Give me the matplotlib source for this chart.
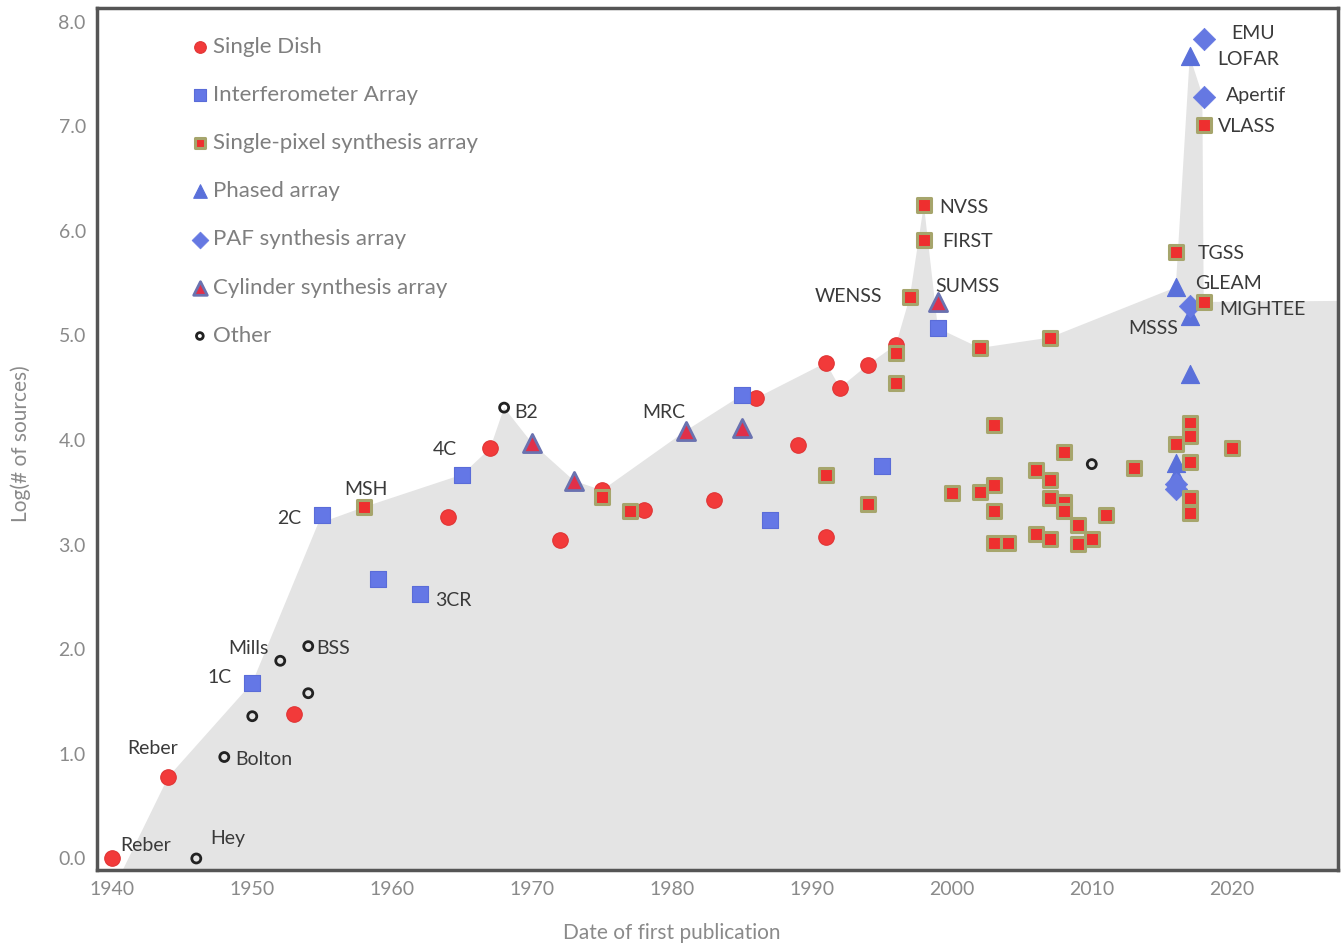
import numpy as np
import matplotlib
matplotlib.use("Agg")
import matplotlib.pyplot as plt

plt.rcParams["font.family"] = ["Lato", "DejaVu Sans"]

# survey data: year of first publication, log10(number of sources)
sd_year = [1940, 1944, 1953, 1964, 1967, 1972, 1975, 1978, 1983, 1986, 1989, 1991, 1991, 1992, 1994, 1996]
sd_log = [0.0, 0.78, 1.38, 3.26, 3.92, 3.04, 3.52, 3.33, 3.43, 4.40, 3.95, 4.74, 3.07, 4.50, 4.72, 4.91]

ia_year = [1950, 1955, 1959, 1962, 1965, 1985, 1987, 1995, 1999]
ia_log = [1.68, 3.28, 2.67, 2.53, 3.67, 4.43, 3.24, 3.75, 5.07]

sp_year = [1958, 1975, 1977, 1991, 1994, 1996, 1996, 1997, 1998, 1998, 2000, 2002, 2002,
           2003, 2003, 2003, 2003, 2004, 2006, 2006, 2007, 2007, 2007, 2007, 2008, 2008,
           2008, 2009, 2009, 2010, 2011, 2013, 2016, 2016, 2017, 2017, 2017, 2017, 2017,
           2018, 2018, 2020]
sp_log = [3.36, 3.46, 3.32, 3.67, 3.39, 4.83, 4.55, 5.37, 6.25, 5.91, 3.49, 4.88, 3.50,
          4.14, 3.57, 3.32, 3.02, 3.02, 3.71, 3.10, 4.98, 3.62, 3.45, 3.05, 3.89, 3.41,
          3.32, 3.19, 3.01, 3.05, 3.28, 3.73, 5.80, 3.96, 4.16, 4.04, 3.79, 3.45, 3.30,
          7.01, 5.32, 3.92]

pa_year = [2016, 2017, 2017, 2017, 2016, 2016]
pa_log = [5.46, 5.19, 4.63, 7.67, 3.78, 3.66]

paf_year = [2018, 2018, 2017, 2016, 2016]
paf_log = [7.83, 7.28, 5.28, 3.58, 3.53]

cyl_year = [1970, 1973, 1981, 1985, 1999]
cyl_log = [3.97, 3.61, 4.09, 4.12, 5.32]

oth_year = [1946, 1948, 1950, 1952, 1954, 1954, 1968, 2010]
oth_log = [0.0, 0.97, 1.36, 1.89, 2.03, 1.58, 4.31, 3.77]

# upper envelope of the grey region
env_year = [1940.6, 1944, 1950, 1954.7, 1958, 1965, 1967, 1968, 1970, 1973, 1975, 1981,
            1985, 1986, 1991, 1992, 1994, 1996, 1997, 1998, 1999, 2002, 2007, 2016,
            2017, 2017.9, 2018, 2027.6]
env_log = [-0.15, 0.78, 1.68, 3.2, 3.36, 3.67, 3.92, 4.31, 3.97, 3.61, 3.52, 4.09,
           4.43, 4.40, 4.74, 4.50, 4.72, 4.91, 5.37, 6.25, 5.07, 4.88, 4.98, 5.46,
           7.67, 7.3, 5.32, 5.33]

lbl_text = ["Reber", "Reber", "Hey", "Bolton", "1C", "Mills", "BSS", "2C", "MSH", "3CR",
            "4C", "B2", "MRC", "WENSS", "NVSS", "FIRST", "SUMSS", "TGSS", "GLEAM",
            "MIGHTEE", "MSSS", "EMU", "LOFAR", "Apertif", "VLASS"]
lbl_x = [1940.6, 1941.1, 1947.0, 1948.8, 1946.8, 1948.3, 1954.6, 1951.8, 1956.6, 1963.1,
         1962.9, 1968.7, 1977.9, 1990.2, 1999.1, 1999.3, 1998.8, 2017.6, 2017.4,
         2019.1, 2012.6, 2020.0, 2019.0, 2019.6, 2019.0]
lbl_y = [0.12, 1.05, 0.19, 0.95, 1.73, 2.01, 2.01, 3.25, 3.53, 2.47,
         3.91, 4.26, 4.26, 5.37, 6.22, 5.90, 5.47, 5.78, 5.50,
         5.25, 5.07, 7.89, 7.64, 7.29, 7.00]

fig = plt.figure(figsize=(13.41, 9.44), dpi=100)
ax = fig.add_axes([0.0723, 0.0784, 0.9255, 0.9131])

ax.fill(env_year + [env_year[-1], env_year[0]], env_log + [-1, -1],
        color="#e4e4e4", lw=0, zorder=1)

ax.scatter(sd_year, sd_log, s=125, marker="o", color="#f23a3a", edgecolors="#e03535",
           lw=0.8, zorder=3, label="Single Dish")
ax.scatter(ia_year, ia_log, s=120, marker="s", color="#6477e6", edgecolors="#5a6cd8",
           lw=0.8, zorder=3, label="Interferometer Array")
ax.scatter(sp_year, sp_log, s=95, marker="s", color="#ee2f2f", edgecolors="#a6a56c",
           lw=2.2, zorder=4, label="Single-pixel synthesis array")
ax.scatter(pa_year, pa_log, s=170, marker="^", color="#5a70da", edgecolors="#5a70da",
           lw=0.8, zorder=3, label="Phased array")
ax.scatter(paf_year, paf_log, s=130, marker="D", color="#6578e2", edgecolors="#6578e2",
           lw=0.5, zorder=3, label="PAF synthesis array")
ax.scatter(cyl_year, cyl_log, s=170, marker="^", color="#e0304a", edgecolors="#6a72b0",
           lw=2.0, zorder=3, label="Cylinder synthesis array")
ax.scatter(oth_year, oth_log, s=42, marker="o", facecolors="none", edgecolors="#222222",
           lw=2.0, zorder=3, label="Other")

for t, x, y in zip(lbl_text, lbl_x, lbl_y):
    ax.text(x, y, t, fontsize=14, color="#3a3a3a", ha="left", va="center", zorder=5)

ax.set_xlim(1938.9, 2027.6)
ax.set_ylim(-0.11, 8.13)
ax.set_xticks(np.arange(1940, 2021, 10))
ax.set_yticks(np.arange(0, 8.1, 1.0))
ax.set_yticklabels([f"{v:.1f}" for v in np.arange(0, 8.1, 1.0)])
ax.tick_params(length=0, labelsize=14, labelcolor="#8a8a8a", pad=8)

for sp in ax.spines.values():
    sp.set_color("#555555")
    sp.set_linewidth(2.5)

ax.set_xlabel("Date of first publication", fontsize=15, color="#8a8a8a")
ax.xaxis.set_label_coords(0.463, -0.062)
ax.set_ylabel("Log(# of sources)", fontsize=15, color="#8a8a8a")
ax.yaxis.set_label_coords(-0.053, 0.495)

leg = ax.legend(loc="upper left", bbox_to_anchor=(0.065, 0.985), frameon=False,
                fontsize=16, labelspacing=1.27, handlelength=0.6, handletextpad=0.3,
                borderpad=0.2, scatterpoints=1, markerscale=0.75)
for txt in leg.get_texts():
    txt.set_color("#7f7f7f")

fig.savefig("out.png", dpi=100)
